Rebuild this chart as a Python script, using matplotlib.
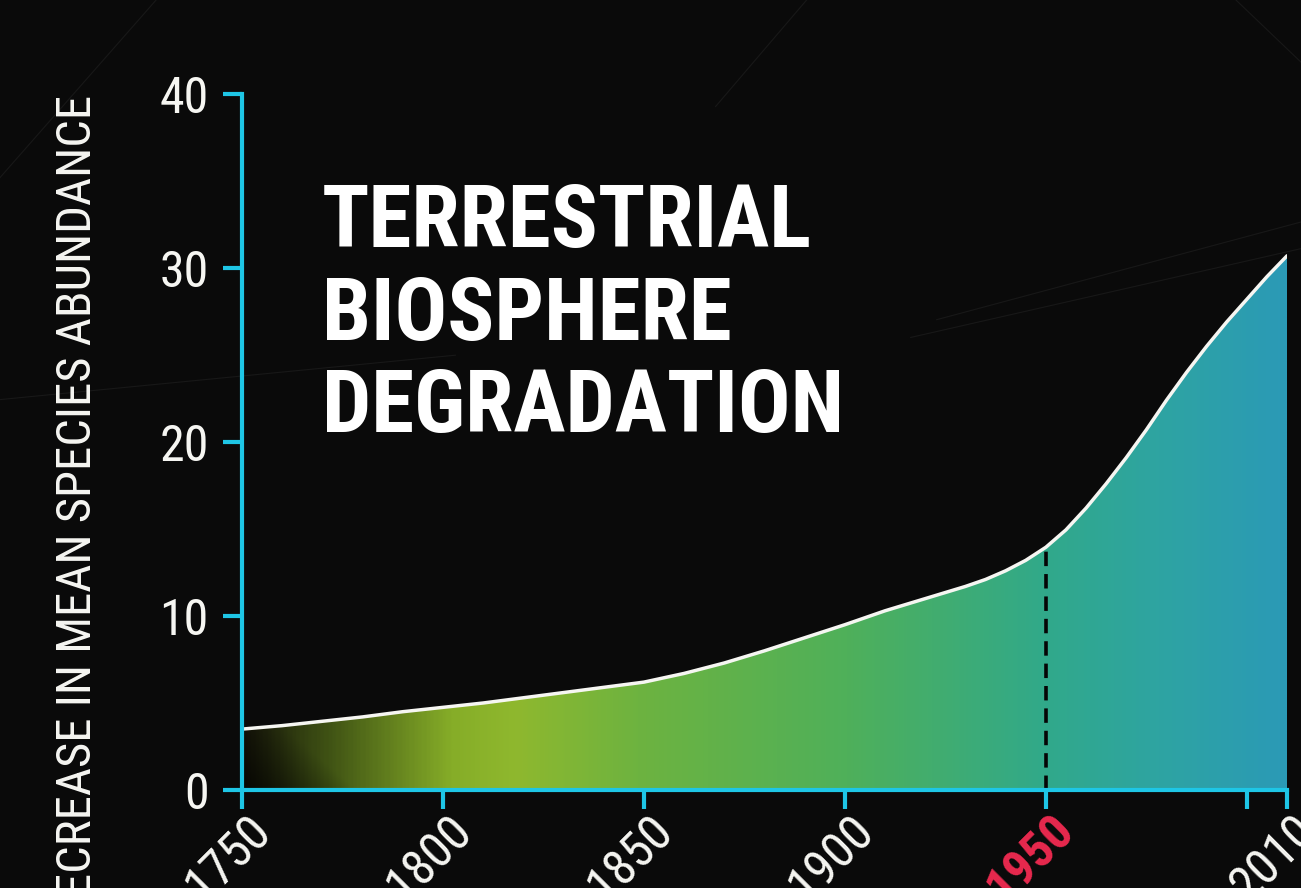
import matplotlib
matplotlib.use("Agg")
import matplotlib.pyplot as plt
import matplotlib.transforms as mtransforms
from matplotlib import font_manager
from matplotlib.colors import LinearSegmentedColormap
import numpy as np

# ==========================================
# Data
# ==========================================
years = [1750, 1760, 1770, 1780, 1790, 1800, 1810, 1820, 1830, 1840,
         1850, 1860, 1870, 1880, 1890, 1900, 1905, 1910, 1915, 1920,
         1925, 1930, 1935, 1940, 1945, 1950, 1955, 1960, 1965, 1970,
         1975, 1980, 1985, 1990, 1995, 2000, 2005, 2010]
decrease = [3.5, 3.7, 3.95, 4.2, 4.5, 4.75, 5.0, 5.3, 5.6, 5.9,
            6.2, 6.7, 7.3, 8.0, 8.75, 9.5, 9.9, 10.3, 10.65, 11.0,
            11.35, 11.7, 12.1, 12.6, 13.2, 13.95, 14.95, 16.2, 17.6, 19.1,
            20.7, 22.4, 24.0, 25.5, 26.9, 28.2, 29.5, 30.7]
x_ticks = [1750, 1800, 1850, 1900, 1950, 2000, 2010]
x_tick_labels = ["1750", "1800", "1850", "1900", "1950", "", "2010"]
y_ticks = [0, 10, 20, 30, 40]
marker_year = 1950

title_lines = ["TERRESTRIAL", "BIOSPHERE", "DEGRADATION"]
y_title = "DECREASE IN MEAN SPECIES ABUNDANCE"

# ==========================================
# Colours / fonts
# ==========================================
BG = "#0a0a0a"
CYAN = "#1ec6e6"
RED = "#e8294e"
WHITE = "#f6f6f2"

installed = {f.name for f in font_manager.fontManager.ttflist}
COND = "DejaVu Sans"
for name in ["Roboto Condensed", "Open Sans Condensed", "Liberation Sans Narrow",
             "DejaVu Sans"]:
    if name in installed:
        COND = name
        break

W, H = 1301, 888
fig = plt.figure(figsize=(W / 100, H / 100), dpi=100, facecolor=BG)

# faint scratches on the background
for (x0, y0, x1, y1) in [(0.0, 0.80, 0.12, 1.0), (0.0, 0.55, 0.35, 0.60),
                         (0.70, 0.62, 1.0, 0.72), (0.72, 0.64, 1.0, 0.75),
                         (0.55, 0.88, 0.62, 1.0), (0.95, 1.0, 1.0, 0.93)]:
    fig.add_artist(plt.Line2D([x0, x1], [y0, y1], transform=fig.transFigure,
                              color="#181818", lw=0.8, zorder=0))

ax = fig.add_axes([242 / W, 1 - 790 / H, (1287 - 242) / W, (790 - 94) / H])
ax.set_facecolor("none")
ax.set_xlim(years[0], years[-1])
ax.set_ylim(0, 40)

# gradient fill under the curve
cmap = LinearSegmentedColormap.from_list("bio", [
    (0.00, "#17160a"), (0.08, "#3f5214"), (0.20, "#86ad28"), (0.26, "#8fb82e"),
    (0.38, "#6db340"), (0.58, "#4fb05a"), (0.77, "#31a98a"), (0.88, "#2ea4a2"),
    (1.00, "#2b9ab6")])
gx = np.linspace(years[0], years[-1], 600)
gy = np.linspace(0, 40, 200)
GX, GY = np.meshgrid(gx, gy)
rgb = cmap((GX - years[0]) / (years[-1] - years[0]))[..., :3]
bright = np.clip(0.3 + (GX - years[0]) / 40 + GY / 8, 0, 1)
rgb = rgb * bright[..., None]
im = ax.imshow(rgb, extent=[years[0], years[-1], 0, 40], origin="lower",
               aspect="auto", interpolation="bilinear", zorder=1)
poly = ax.fill_between(years, decrease, 0, facecolor="none", edgecolor="none")
im.set_clip_path(poly.get_paths()[0], transform=ax.transData)

ax.plot(years, decrease, color=WHITE, lw=2.5, zorder=3,
        solid_capstyle="round", solid_joinstyle="round")
ax.plot([marker_year, marker_year], [0, decrease[years.index(marker_year)]],
        color="#050505", lw=2.6, ls=(0, (4, 2.2)), zorder=2)

# axes styling
for s in ["top", "right"]:
    ax.spines[s].set_visible(False)
for s in ["left", "bottom"]:
    ax.spines[s].set_color(CYAN)
    ax.spines[s].set_linewidth(3)
    ax.spines[s].set_zorder(4)
ax.tick_params(axis="both", colors=CYAN, length=14, width=3, direction="out")
ax.tick_params(axis="y", pad=10, labelcolor=WHITE, labelsize=36)
ax.tick_params(axis="x", pad=0, labelcolor=WHITE, labelsize=36)

ax.set_yticks(y_ticks)
ax.set_yticklabels([str(v) for v in y_ticks], family=COND)
ax.set_xticks(x_ticks)
ax.set_xticklabels(x_tick_labels, family=COND)
shift = mtransforms.ScaledTranslation(4 / 100, 3 / 100, fig.dpi_scale_trans)
for lab in ax.get_xticklabels():
    lab.set_rotation(45)
    lab.set_rotation_mode("anchor")
    lab.set_ha("right")
    lab.set_va("top")
    lab.set_transform(lab.get_transform() + shift)
    if lab.get_text() == str(marker_year):
        lab.set_color(RED)
        lab.set_fontweight("bold")

# ==========================================
# Texts
# ==========================================
renderer = fig.canvas.get_renderer()


def fit(t, target, along="w"):
    bb = t.get_window_extent(renderer)
    cur = bb.width if along == "w" else bb.height
    t.set_fontsize(t.get_fontsize() * target / cur)


ylab = fig.text(78 / W, 1 - 95 / H, y_title, rotation=90, ha="center", va="top",
                color=WHITE, fontsize=40, family=COND)
fit(ylab, 830, along="h")

baselines = [247, 340, 432]
tl = []
for line, yb in zip(title_lines, baselines):
    t = fig.text(322 / W, 1 - yb / H, line, ha="left", va="baseline",
                 color="white", fontsize=70, fontweight="black", family=COND)
    tl.append(t)
fit(tl[0], 490)
for t in tl[1:]:
    t.set_fontsize(tl[0].get_fontsize())

fig.savefig("out.png", dpi=100, facecolor=BG)
